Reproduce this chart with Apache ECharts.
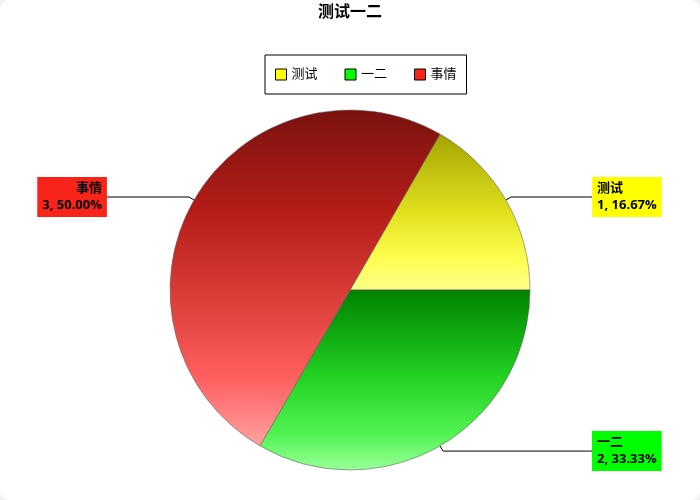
<!DOCTYPE html>
<html>
<head>
<meta charset="utf-8">
<script src="https://cdn.jsdelivr.net/npm/echarts@6/dist/echarts.min.js"></script>
<style>
html,body{margin:0;padding:0;background:#f2f2f2;}
#chart{width:700px;height:500px;background:#fff;border-radius:10px;overflow:hidden;}
</style>
</head>
<body>
<div id="chart"></div>
<script>
// ---- data ----
const titleText = '测试一二';
const categories = ['测试', '一二', '事情'];
const values = [1, 2, 3];
// per-label line tail lengths (px)
const tailLengths = [81, 149, 82];

// ---- palette ----
const baseColors = ['#ffff00', '#00ff00', '#f82419'];
const gradients = [
  [[0, '#a4a400'], [0.5, '#e0e01e'], [0.8, '#ffff50'], [1, '#ffff8c']],
  [[0, '#008200'], [0.5, '#24d424'], [0.8, '#52f352'], [1, '#9aff9a']],
  [[0, '#7a120e'], [0.3, '#b41c18'], [0.6, '#e0443f'], [0.8, '#ff6060'], [1, '#ffa2a2']]
];

const total = values.reduce((a, b) => a + b, 0);
const font = "'Liberation Sans', 'Noto Sans CJK SC', sans-serif";
const labelFont = "'Open Sans', 'Noto Sans CJK SC', sans-serif";

function grad(stops) {
  return new echarts.graphic.LinearGradient(0, 0, 0, 1,
    stops.map(s => ({ offset: s[0], color: s[1] })));
}

const seriesData = categories.map((name, i) => ({
  name: name,
  value: values[i],
  itemStyle: { color: grad(gradients[i]) },
  label: { backgroundColor: baseColors[i] },
  labelLine: { length: 6, length2: tailLengths[i] }
}));

const chart = echarts.init(document.getElementById('chart'), null, { renderer: 'canvas' });
chart.setOption({
  backgroundColor: '#ffffff',
  animation: false,
  title: {
    text: titleText,
    left: 'center',
    top: 0,
    textStyle: { fontSize: 16, fontWeight: 'bold', color: '#000', fontFamily: font }
  },
  legend: {
    left: 265,
    top: 55,
    padding: [13, 10, 13, 10],
    itemGap: 27,
    itemWidth: 11,
    itemHeight: 11,
    icon: 'rect',
    borderColor: '#000',
    borderWidth: 1,
    itemStyle: { borderColor: '#000', borderWidth: 1 },
    textStyle: { fontSize: 13, color: '#000', fontFamily: font },
    data: categories.map((name, i) => ({ name: name, itemStyle: { color: baseColors[i] } }))
  },
  series: [{
    type: 'pie',
    center: [350, 290],
    radius: 180,
    startAngle: 60,
    clockwise: true,
    avoidLabelOverlap: false,
    itemStyle: { borderColor: 'rgba(90,90,90,0.55)', borderWidth: 1 },
    emphasis: { disabled: true },
    label: {
      show: true,
      position: 'outside',
      alignTo: 'none',
      distanceToLabelLine: 0,
      fontSize: 13,
      fontWeight: 'bold',
      color: '#000',
      fontFamily: labelFont,
      lineHeight: 17,
      padding: [3, 5, 3, 5],
      formatter: function (p) {
        return p.name + '\n' + p.value + ', ' + (p.value / total * 100).toFixed(2) + '%';
      }
    },
    labelLine: {
      show: true,
      length: 6,
      length2: 80,
      lineStyle: { color: '#000', width: 1 }
    },
    data: seriesData
  }]
});
</script>
</body>
</html>
